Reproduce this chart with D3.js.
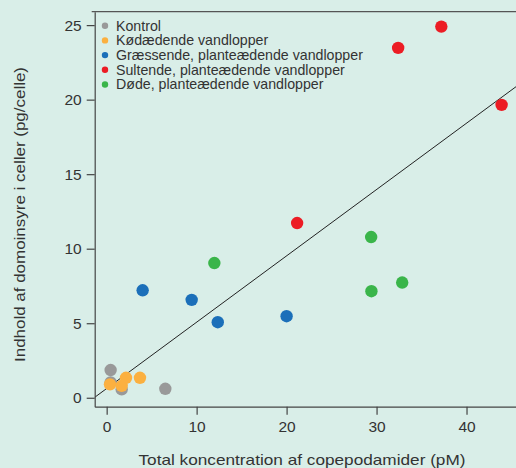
<!DOCTYPE html>
<html><head><meta charset="utf-8">
<script src="https://cdn.jsdelivr.net/npm/d3@7"></script>
<style>
html,body{margin:0;padding:0;background:#d9eee8;}
svg{display:block;}
text{font-family:"Liberation Sans",Arial,sans-serif;fill:#333;}
</style></head>
<body>
<svg id="chart" width="516" height="468"></svg>
<script>
const seriesNames = ["Kontrol","Kødædende vandlopper","Græssende, planteædende vandlopper","Sultende, planteædende vandlopper","Døde, planteædende vandlopper"];
const seriesColors = ["#999999","#fbb040","#1b6fb9","#ec1c24","#3ab54a"];
const kontrolX = [0.44, 0.44, 1.67, 6.52];
const kontrolY = [1.86, 1.03, 0.56, 0.60];
const koedX = [0.37, 1.67, 2.15, 3.7];
const koedY = [0.90, 0.80, 1.34, 1.34];
const graesX = [4.0, 9.45, 12.35, 20.0];
const graesY = [7.21, 6.57, 5.07, 5.47];
const sultX = [21.17, 32.4, 37.2, 43.9];
const sultY = [11.72, 23.47, 24.9, 19.65];
const doedeX = [11.97, 29.4, 29.43, 32.85];
const doedeY = [9.04, 10.78, 7.15, 7.73];
const xTicks = [0,10,20,30,40];
const yTicks = [0,5,10,15,20,25];
const fitIntercept = 0.62, fitSlope = 0.445;

const svg = d3.select("#chart");
const L = 94.7, R = 516, T = 11.7, B = 406.7;
const x = d3.scaleLinear().domain([-1.33, 45.5]).range([L, R]);
const y = d3.scaleLinear().domain([-0.6, 25.9]).range([B, T]);

// regression line clipped to plot
svg.append("clipPath").attr("id","clip").append("rect")
  .attr("x",L).attr("y",T).attr("width",R-L).attr("height",B-T);
const xd = x.domain();
svg.append("line").attr("clip-path","url(#clip)")
  .attr("x1",x(xd[0])).attr("y1",y(fitIntercept+fitSlope*xd[0]))
  .attr("x2",x(xd[1])).attr("y2",y(fitIntercept+fitSlope*xd[1]))
  .attr("stroke","#222").attr("stroke-width",1);

// points
const groups = [[kontrolX,kontrolY],[koedX,koedY],[graesX,graesY],[sultX,sultY],[doedeX,doedeY]];
groups.forEach((g,i)=>{
  svg.append("g").selectAll("circle").data(g[0].map((v,j)=>[v,g[1][j]])).join("circle")
    .attr("cx",d=>x(d[0])).attr("cy",d=>y(d[1])).attr("r",6.2)
    .attr("fill",seriesColors[i]);
});

// axes
const xAxis = d3.axisBottom(x).tickValues(xTicks).tickSize(8).tickPadding(6).tickSizeOuter(0);
const yAxis = d3.axisLeft(y).tickValues(yTicks).tickSize(8).tickPadding(5).tickSizeOuter(0);
const gx = svg.append("g").attr("transform",`translate(0,${B})`).call(xAxis);
const gy = svg.append("g").attr("transform",`translate(${L},0)`).call(yAxis);
[gx,gy].forEach(g=>{
  g.select(".domain").attr("stroke","#444").attr("stroke-width",1.2);
  g.selectAll(".tick line").attr("stroke","#444").attr("stroke-width",1.2);
  g.selectAll(".tick text").attr("font-size",15.5).attr("fill","#333")
   .style("font-family","'Liberation Sans',Arial,sans-serif");
});
// top border
svg.append("line").attr("x1",L-3).attr("x2",R).attr("y1",T).attr("y2",T)
  .attr("stroke","#555").attr("stroke-width",1.2);

// legend
const lg = svg.append("g");
seriesNames.forEach((n,i)=>{
  const yy = 25.7 + i*14.7;
  lg.append("circle").attr("cx",105).attr("cy",yy).attr("r",3.2).attr("fill",seriesColors[i]);
  lg.append("text").attr("x",116).attr("y",yy).attr("dy","0.35em").attr("font-size",14.2).text(n);
});

// axis titles
svg.append("text").attr("x",(138+466)/2).attr("y",465).attr("text-anchor","middle")
  .attr("font-size",15).attr("textLength",327).attr("lengthAdjust","spacingAndGlyphs")
  .text("Total koncentration af copepodamider (pM)");
svg.append("text").attr("transform","translate(25,214.5) rotate(-90)").attr("text-anchor","middle")
  .attr("font-size",15).attr("textLength",295).attr("lengthAdjust","spacingAndGlyphs")
  .text("Indhold af domoinsyre i celler (pg/celle)");
</script>
</body></html>
